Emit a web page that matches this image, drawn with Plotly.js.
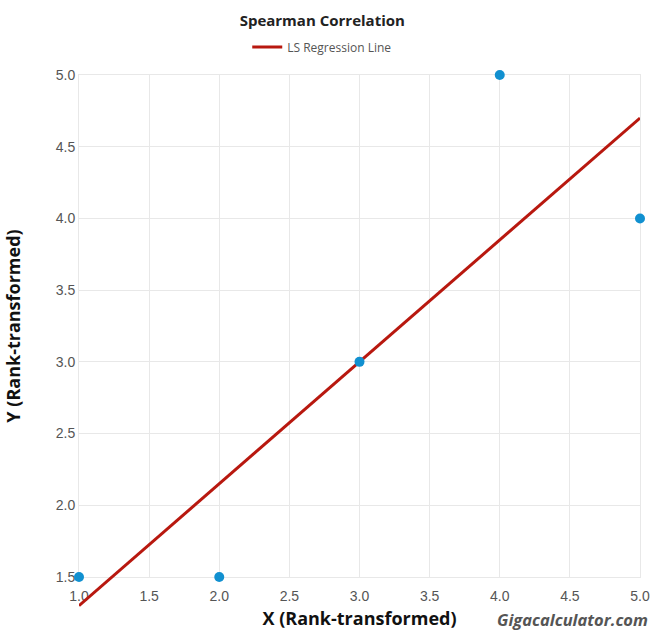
<!DOCTYPE html>
<html>
<head>
<meta charset="utf-8">
<script src="https://cdn.plot.ly/plotly-3.0.1.min.js"></script>
<style>
  html, body { margin: 0; padding: 0; background: #fff; }
  #chart { width: 651px; height: 630px; }
</style>
</head>
<body>
<div id="chart"></div>
<script>
// Rank-transformed observations
const xRanks = [1, 2, 3, 4, 5];
const yRanks = [1.5, 1.5, 3, 5, 4];
const xTicks = [1.0, 1.5, 2.0, 2.5, 3.0, 3.5, 4.0, 4.5, 5.0];
const yTicks = [1.5, 2.0, 2.5, 3.0, 3.5, 4.0, 4.5, 5.0];

// Least-squares fit on the ranks
const n = xRanks.length;
const mx = xRanks.reduce((a, b) => a + b, 0) / n;
const my = yRanks.reduce((a, b) => a + b, 0) / n;
let sxy = 0, sxx = 0;
for (let i = 0; i < n; i++) {
  sxy += (xRanks[i] - mx) * (yRanks[i] - my);
  sxx += (xRanks[i] - mx) * (xRanks[i] - mx);
}
const slope = sxy / sxx;
const intercept = my - slope * mx;
const lineX = [xRanks[0], xRanks[n - 1]];
const lineY = lineX.map(v => intercept + slope * v);

// The fit line may run below the lowest rank, so the marks live on a taller,
// unlabelled companion subplot with the same scale as the labelled axes.
const xMin = 1.0, xMax = 5.0;
const yMin = 1.5, yMax = 5.0;
const mainBottom = 0.0652;               // fraction of plot height kept below the labelled axis
const y2Min = yMax - (yMax - yMin) / (1 - mainBottom);

const fontTick = { family: 'Liberation Sans, Arial, sans-serif', size: 14, color: '#555555' };
const fontBold = { family: 'Open Sans, DejaVu Sans, sans-serif', size: 18, color: '#111111' };

const traces = [
  {
    // keeps the labelled grid subplot in place
    x: [], y: [],
    xaxis: 'x', yaxis: 'y',
    type: 'scatter', mode: 'markers',
    showlegend: false, hoverinfo: 'skip'
  },
  {
    x: lineX, y: lineY,
    xaxis: 'x2', yaxis: 'y2',
    type: 'scatter', mode: 'lines',
    name: 'LS Regression Line',
    line: { color: '#b8180f', width: 3 },
    showlegend: true,
    hoverinfo: 'skip'
  },
  {
    x: xRanks, y: yRanks,
    xaxis: 'x2', yaxis: 'y2',
    type: 'scatter', mode: 'markers',
    name: 'Ranks',
    marker: { color: '#1190d0', size: 10 },
    cliponaxis: false,
    showlegend: false
  }
];

const layout = {
  width: 651, height: 630,
  paper_bgcolor: '#ffffff',
  plot_bgcolor: 'rgba(0,0,0,0)',
  margin: { l: 79, r: 11, t: 75, b: 18 },
  title: {
    text: '<b>Spearman Correlation</b>',
    font: { family: 'Open Sans, DejaVu Sans, sans-serif', size: 15, color: '#222222' },
    xref: 'container', x: 0.495, xanchor: 'center',
    yref: 'container', y: 1 - 21 / 630, yanchor: 'middle'
  },
  showlegend: true,
  legend: {
    orientation: 'h',
    xref: 'container', x: 0.495, xanchor: 'center',
    yref: 'container', y: 1 - 47 / 630, yanchor: 'middle',
    font: { family: 'Open Sans, DejaVu Sans, sans-serif', size: 12, color: '#555555' },
    bgcolor: 'rgba(0,0,0,0)'
  },
  xaxis: {
    domain: [0, 1],
    range: [xMin, xMax],
    tickvals: xTicks,
    ticktext: xTicks.map(v => v.toFixed(1)),
    tickfont: fontTick,
    ticks: '',
    ticklabelstandoff: 6,
    showgrid: true, gridcolor: '#e8e8e8', gridwidth: 1,
    showline: true, linecolor: '#e8e8e8', mirror: true,
    zeroline: false,
    anchor: 'y',
    title: { text: '<b>X (Rank-transformed)</b>', font: fontBold, standoff: 15 }
  },
  yaxis: {
    domain: [mainBottom, 1],
    range: [yMin, yMax],
    tickvals: yTicks,
    ticktext: yTicks.map(v => v.toFixed(1)),
    tickfont: fontTick,
    ticks: '',
    showgrid: true, gridcolor: '#e8e8e8', gridwidth: 1,
    showline: true, linecolor: '#e8e8e8', mirror: true,
    zeroline: false,
    anchor: 'x',
    title: { text: '<b>Y (Rank-transformed)</b>', font: fontBold, standoff: 30 }
  },
  xaxis2: {
    domain: [0, 1],
    range: [xMin, xMax],
    anchor: 'y2',
    visible: false, showgrid: false, zeroline: false
  },
  yaxis2: {
    domain: [0, 1],
    range: [y2Min, yMax],
    anchor: 'x2',
    visible: false, showgrid: false, zeroline: false
  },
  annotations: [{
    text: '<b><i>Gigacalculator.com</i></b>',
    xref: 'paper', x: (650 - 79) / 561, xanchor: 'right',
    yref: 'paper', y: -7 / 537, yanchor: 'middle',
    showarrow: false,
    font: { family: 'Open Sans, DejaVu Sans, sans-serif', size: 16.5, color: '#555555' }
  }]
};

Plotly.newPlot('chart', traces, layout, { displayModeBar: false, staticPlot: true });
</script>
</body>
</html>
